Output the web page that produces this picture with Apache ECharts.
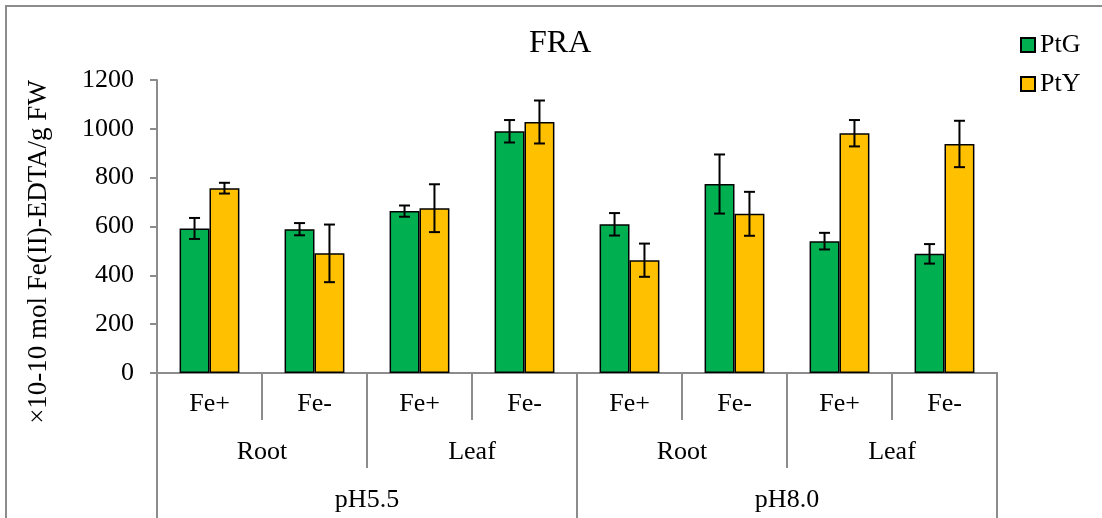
<!DOCTYPE html>
<html>
<head>
<meta charset="utf-8">
<script src="https://cdn.jsdelivr.net/npm/echarts@6/dist/echarts.min.js"></script>
<style>html,body{margin:0;padding:0;background:#fff;}#c{width:1102px;height:518px;}</style>
</head>
<body>
<div id="c"></div>
<script>
const level1 = ['Fe+', 'Fe-', 'Fe+', 'Fe-', 'Fe+', 'Fe-', 'Fe+', 'Fe-'];
const level2 = ['Root', 'Leaf', 'Root', 'Leaf'];
const level3 = ['pH5.5', 'pH8.0'];
const seriesNames = ['PtG', 'PtY'];
const ptG = [592, 589, 663, 990, 609, 774, 540, 488];
const ptGErr = [43, 25, 23, 46, 46, 121, 34, 40];
const ptY = [757, 490, 675, 1028, 462, 652, 982, 938];
const ptYErr = [22, 118, 98, 88, 68, 90, 54, 95];
const yTicks = [0, 200, 400, 600, 800, 1000, 1200];
const yTitle = '×10-10 mol Fe(II)-EDTA/g FW';

const FONT = "'Times New Roman', 'Liberation Serif', serif";
const AXIS = '#8c8c8c';
const GAP = 0.43;

const chart = echarts.init(document.getElementById('c'), null, {renderer: 'canvas'});

function errItem(sign) {
  return function (params, api) {
    const idx = api.value(0);
    const v = api.value(1);
    const e = api.value(2);
    const band = api.size([1, 0])[0];
    const bw = band * (1 - GAP) / 2;
    const cx = api.coord([idx, v])[0] + sign * bw / 2;
    const yHi = api.coord([idx, v + e])[1];
    const yLo = api.coord([idx, v - e])[1];
    const cap = 5.5;
    const st = {stroke: '#000', lineWidth: 2, fill: null};
    return {
      type: 'group',
      children: [
        {type: 'line', shape: {x1: cx, y1: yHi, x2: cx, y2: yLo}, style: st},
        {type: 'line', shape: {x1: cx - cap, y1: yHi, x2: cx + cap, y2: yHi}, style: st},
        {type: 'line', shape: {x1: cx - cap, y1: yLo, x2: cx + cap, y2: yLo}, style: st}
      ]
    };
  };
}

const catAxisBase = {
  type: 'category',
  position: 'bottom',
  gridIndex: 0,
  boundaryGap: true,
  axisLine: {show: true, lineStyle: {color: AXIS, width: 2}},
  axisTick: {show: true, interval: 0, inside: false, alignWithLabel: false, lineStyle: {color: AXIS, width: 2}},
  axisLabel: {interval: 0, color: '#000', fontFamily: FONT, fontSize: 26, verticalAlign: 'middle'},
  splitLine: {show: false}
};

const option = {
  animation: false,
  backgroundColor: '#fff',
  title: {
    text: 'FRA', left: 529, top: 28, padding: 0,
    textStyle: {fontFamily: FONT, fontSize: 32, fontWeight: 'normal', color: '#000'}
  },
  legend: {
    orient: 'vertical', left: 1020, top: 32, padding: 0,
    itemWidth: 14, itemHeight: 14, itemGap: 13,
    icon: 'rect',
    data: seriesNames,
    textStyle: {fontFamily: FONT, fontSize: 26, color: '#000'}
  },
  grid: {left: 157, right: 105, top: 80, bottom: 145, containLabel: false},
  xAxis: [
    Object.assign({}, catAxisBase, {
      data: level1,
      axisTick: Object.assign({}, catAxisBase.axisTick, {length: 47}),
      axisLabel: Object.assign({}, catAxisBase.axisLabel, {margin: 31})
    }),
    Object.assign({}, catAxisBase, {
      data: level2,
      axisTick: Object.assign({}, catAxisBase.axisTick, {length: 95}),
      axisLabel: Object.assign({}, catAxisBase.axisLabel, {margin: 79})
    }),
    Object.assign({}, catAxisBase, {
      data: level3,
      axisTick: Object.assign({}, catAxisBase.axisTick, {length: 160}),
      axisLabel: Object.assign({}, catAxisBase.axisLabel, {margin: 127})
    })
  ],
  yAxis: {
    type: 'value', min: 0, max: 1200, interval: 200,
    axisLine: {show: true, lineStyle: {color: AXIS, width: 2}},
    axisTick: {show: true, length: 7, inside: false, lineStyle: {color: AXIS, width: 2}},
    axisLabel: {color: '#000', fontFamily: FONT, fontSize: 26, margin: 23,
      formatter: function (v) { return yTicks.indexOf(v) >= 0 ? String(v) : ''; }},
    splitLine: {show: false}
  },
  series: [
    {
      name: seriesNames[0], type: 'bar', xAxisIndex: 0, data: ptG,
      barGap: '0%', barCategoryGap: (GAP * 100) + '%',
      itemStyle: {color: '#00B050', borderColor: '#000', borderWidth: 1.5}
    },
    {
      name: seriesNames[1], type: 'bar', xAxisIndex: 0, data: ptY,
      barGap: '0%', barCategoryGap: (GAP * 100) + '%',
      itemStyle: {color: '#FFC000', borderColor: '#000', borderWidth: 1.5}
    },
    {
      type: 'custom', xAxisIndex: 0, z: 10, silent: true,
      renderItem: errItem(-1),
      data: ptG.map(function (v, i) { return [i, v, ptGErr[i]]; })
    },
    {
      type: 'custom', xAxisIndex: 0, z: 10, silent: true,
      renderItem: errItem(1),
      data: ptY.map(function (v, i) { return [i, v, ptYErr[i]]; })
    }
  ],
  graphic: [
    {
      type: 'polyline', silent: true,
      shape: {points: [[6, 518], [6, 6], [1102, 6]]},
      style: {stroke: AXIS, lineWidth: 2, fill: null}
    },
    {
      type: 'text', silent: true,
      x: 39, y: 252, rotation: Math.PI / 2,
      style: {text: yTitle, fontFamily: FONT, fontSize: 27, fill: '#000',
        align: 'center', verticalAlign: 'middle'}
    }
  ]
};
chart.setOption(option);
</script>
</body>
</html>
